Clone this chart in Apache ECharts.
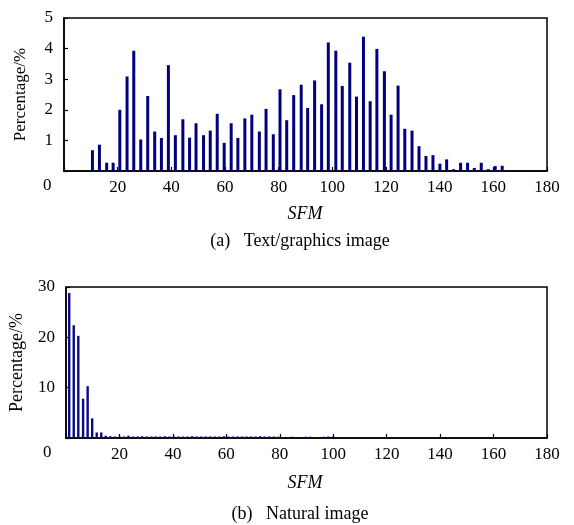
<!DOCTYPE html>
<html>
<head>
<meta charset="utf-8">
<script src="https://cdn.jsdelivr.net/npm/echarts@6/dist/echarts.min.js"></script>
<style>html,body{margin:0;padding:0;background:#fff;}#c{width:574px;height:525px;}</style>
</head>
<body>
<div id="c"></div>
<script>
// (a) Text/graphics image
var sfmA = [10.6,13.2,15.9,18.3,20.8,23.5,26.0,28.6,31.2,33.8,36.3,38.9,41.5,44.3,46.8,49.2,52.0,54.5,57.1,59.7,62.3,64.8,67.4,70.0,72.8,75.3,78.0,80.5,83.0,85.6,88.4,90.8,93.4,96.0,98.5,101.3,103.7,106.5,109.0,111.6,114.1,116.6,119.4,121.9,124.5,127.0,129.7,132.3,134.9,137.5,140.1,142.6,145.2,147.8,150.4,152.9,155.5,158.1,160.7,163.3];
var pctA = [0.68,0.86,0.27,0.27,2.0,3.09,3.93,1.03,2.45,1.29,1.08,3.46,1.17,1.69,1.09,1.56,1.17,1.32,1.87,0.92,1.56,1.08,1.72,1.84,1.29,2.03,1.2,2.67,1.66,2.48,2.82,2.06,2.96,2.18,4.2,3.93,2.78,3.54,2.43,4.39,2.28,3.99,3.26,1.84,2.79,1.38,1.32,0.81,0.49,0.52,0.24,0.38,0.06,0.27,0.27,0.1,0.27,0.06,0.16,0.17];
// (b) Natural image
var sfmB = [1.2,2.9,4.6,6.4,8.1,9.8,11.5,13.2,14.9,16.6,18.3,20.0,21.7,23.4,25.1,26.8,28.5,30.2,31.9,33.6,35.3,37.0,38.7,40.4,42.1,43.8,45.5,47.2,48.9,50.6,52.3,54.0,55.7,57.4,59.1,60.8,62.5,64.2,65.9,67.6,69.3,71.0,72.7,74.4,76.1,77.8,79.5,81.2,82.9,84.6,86.3,88.0,89.7,91.4,93.1,94.8,96.5,98.2,99.9];
var pctB = [28.8,22.4,20.3,7.8,10.3,3.9,1.1,1.1,0.45,0.35,0.3,0.3,0.3,0.45,0.3,0.3,0.35,0.3,0.3,0.3,0.3,0.35,0.3,0.3,0.3,0.3,0.3,0.35,0.3,0.3,0.3,0.3,0.3,0.3,0.35,0.3,0.3,0.3,0.3,0.3,0.3,0.3,0.35,0.3,0.3,0.3,0.25,0.2,0,0.25,0.2,0,0.25,0.25,0,0,0.25,0.3,0.3];
var xTicks = [0,20,40,60,80,100,120,140,160,180];
var yTicksA = [0,1,2,3,4,5];
var yTicksB = [0,10,20,30];

var FONT = '"Liberation Serif", "Times New Roman", serif';
function pairs(xs, ys){ return xs.map(function(x,i){ return [x, ys[i]]; }); }

function xAxis(gi){
  return {
    type:'value', gridIndex:gi, min:xTicks[0], max:xTicks[xTicks.length-1], interval:20,
    axisLine:{show:true, lineStyle:{color:'#000', width:1.5}},
    axisTick:{show:true, inside:true, length:4, lineStyle:{color:'#000', width:1.2}},
    axisLabel:{color:'#000', fontFamily:FONT, fontSize:17, margin:8,
      formatter:function(v){ return v===0 ? '' : String(v); }},
    splitLine:{show:false}
  };
}
function yAxis(gi, ticks, nameSize, gap){
  return {
    type:'value', gridIndex:gi, min:ticks[0], max:ticks[ticks.length-1], interval:ticks[1]-ticks[0],
    name:'Percentage/%', nameLocation:'middle', nameGap:gap,
    nameTextStyle:{color:'#000', fontFamily:FONT, fontSize:nameSize},
    axisLine:{show:true, lineStyle:{color:'#000', width:1.5}},
    axisTick:{show:true, inside:true, length:4, lineStyle:{color:'#000', width:1.2}},
    axisLabel:{color:'#000', fontFamily:FONT, fontSize:17, margin:11,
      formatter:function(v){ return v===0 ? '' : String(v); }},
    splitLine:{show:false}
  };
}

var chart = echarts.init(document.getElementById('c'));
chart.setOption({
  animation:false,
  backgroundColor:'#fff',
  grid:[
    {left:64, top:18, width:483, height:153, show:true, borderColor:'#000', borderWidth:1.5},
    {left:64, top:287, width:483, height:151, show:true, borderColor:'#000', borderWidth:1.5}
  ],
  xAxis:[xAxis(0), xAxis(1)],
  yAxis:[yAxis(0, yTicksA, 17, 35), yAxis(1, yTicksB, 18, 40)],
  series:[
    {type:'bar', xAxisIndex:0, yAxisIndex:0, barWidth:3, data:pairs(sfmA,pctA),
     itemStyle:{color:'#00007f'}},
    {type:'bar', xAxisIndex:1, yAxisIndex:1, barWidth:2.4, data:pairs(sfmB,pctB),
     itemStyle:{color:'#0a0a88'}}
  ],
  graphic:[
    {type:'text', left:43, top:177, style:{text:'0', font:'17px '+FONT, fill:'#000'}},
    {type:'text', left:43, top:444, style:{text:'0', font:'17px '+FONT, fill:'#000'}},
    {type:'text', x:305, y:214, style:{text:'SFM', font:'italic 18px '+FONT, fill:'#000', align:'center', verticalAlign:'middle'}},
    {type:'text', x:305, y:483, style:{text:'SFM', font:'italic 18px '+FONT, fill:'#000', align:'center', verticalAlign:'middle'}},
    {type:'text', x:300, y:241, style:{text:'(a)   Text/graphics image', font:'18px '+FONT, fill:'#000', align:'center', verticalAlign:'middle'}},
    {type:'text', x:300, y:514, style:{text:'(b)   Natural image', font:'18px '+FONT, fill:'#000', align:'center', verticalAlign:'middle'}}
  ]
});
</script>
</body>
</html>
